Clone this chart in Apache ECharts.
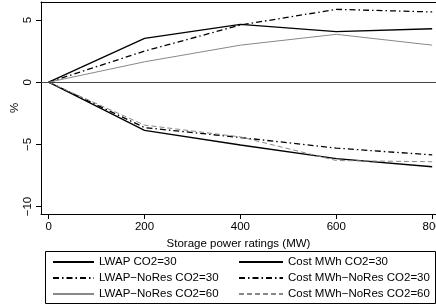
<!DOCTYPE html>
<html>
<head>
<meta charset="utf-8" />
<script src="https://cdn.jsdelivr.net/npm/echarts@6/dist/echarts.min.js"></script>
<style>
	html,
	body {
		margin: 0;
		padding: 0;
		background: #fff;
	}
	#chart {
		width: 436px;
		height: 305px;
	}
</style>
</head>
<body>
<div id="chart"></div>
<script>
	// storage power ratings (MW)
	const powers = [0, 200, 400, 600, 800];
	// % change
	const lwap30 = [0, 3.52, 4.65, 4.06, 4.3];
	const lwapNoRes30 = [0, 2.5, 4.6, 5.86, 5.65];
	const lwapNoRes60 = [0, 1.64, 2.98, 3.85, 2.98];
	const cost30 = [0, -3.87, -5.05, -6.15, -6.8];
	const costNoRes30 = [0, -3.65, -4.45, -5.3, -5.85];
	const costNoRes60 = [0, -3.45, -4.4, -6.3, -6.4];
	// tick labels
	const xTicks = [0, 200, 400, 600, 800];
	const yTicks = [-10, -5, 0, 5];

	const font = 'Liberation Sans';
	const dashDot = [6, 3, 1.5, 3];

	function pairs(values) {
		return powers.map((p, i) => [p, values[i]]);
	}

	function line(name, values, color, type, width) {
		return {
			name: name,
			type: 'line',
			data: pairs(values),
			symbol: 'none',
			silent: true,
			lineStyle: { color: color, type: type, width: width },
			itemStyle: { color: color },
		};
	}

	const series = [
		line('LWAP CO2=30', lwap30, '#000', 'solid', 1.3),
		line('LWAP\u2212NoRes CO2=30', lwapNoRes30, '#000', dashDot, 1.3),
		line('LWAP\u2212NoRes CO2=60', lwapNoRes60, '#888', 'solid', 1),
		line('Cost MWh CO2=30', cost30, '#000', 'solid', 1.3),
		line('Cost MWh\u2212NoRes CO2=30', costNoRes30, '#000', dashDot, 1.3),
		line('Cost MWh\u2212NoRes CO2=60', costNoRes60, '#888', [5, 3], 1),
	];
	// zero line
	series[0].markLine = {
		silent: true,
		symbol: 'none',
		label: { show: false },
		lineStyle: { color: '#444', type: 'solid', width: 1.2 },
		data: [{ yAxis: 0 }],
	};

	const textStyle = { fontFamily: font, fontSize: 11.5, color: '#000' };

	function legendCol(left, width, names) {
		return {
			orient: 'vertical',
			left: left,
			top: 256,
			padding: 0,
			itemWidth: width,
			itemHeight: 10,
			itemGap: 4,
			itemStyle: { opacity: 0 },
			textStyle: textStyle,
			data: names,
		};
	}

	const option = {
		animation: false,
		grid: {
			left: 41,
			top: 2,
			right: 0,
			bottom: 91,
			outerBoundsMode: 'none',
		},
		xAxis: [
			{
				type: 'value',
				min: -16,
				max: 808,
				name: 'Storage power ratings (MW)',
				nameLocation: 'middle',
				nameGap: 19,
				nameTextStyle: textStyle,
				splitLine: { show: false },
				axisLine: { show: true, onZero: false, lineStyle: { color: '#000', width: 1 } },
				axisTick: { show: true, length: 5, customValues: xTicks, lineStyle: { color: '#000' } },
				axisLabel: Object.assign({ customValues: xTicks, margin: 7, hideOverlap: false }, textStyle),
			},
			{
				// top frame line only
				type: 'value',
				position: 'top',
				min: -16,
				max: 808,
				splitLine: { show: false },
				axisLine: { show: true, onZero: false, lineStyle: { color: '#000', width: 1 } },
				axisTick: { show: false },
				axisLabel: { show: false },
			},
		],
		yAxis: {
			type: 'value',
			min: -10.6,
			max: 6.45,
			name: '%',
			nameLocation: 'middle',
			nameRotate: 90,
			nameGap: 26,
			nameMoveOverlap: false,
			nameTextStyle: Object.assign({ align: 'center', verticalAlign: 'middle' }, textStyle),
			splitLine: { show: false },
			axisLine: { show: true, onZero: false, lineStyle: { color: '#000', width: 1 } },
			axisTick: { show: true, length: 5, customValues: yTicks, lineStyle: { color: '#000' } },
			axisLabel: Object.assign(
				{
					customValues: yTicks,
					rotate: 90,
					margin: 7,
					align: 'center',
					verticalAlign: 'bottom',
					formatter: (v) => String(v).replace('-', '\u2212'),
				},
				textStyle
			),
		},
		legend: [
			legendCol(52, 41, [series[0].name, series[1].name, series[2].name]),
			legendCol(238, 44, [series[3].name, series[4].name, series[5].name]),
		],
		// legend frame
		graphic: [
			{
				type: 'rect',
				shape: { x: 45.5, y: 251.5, width: 390, height: 52 },
				style: { fill: 'none', stroke: '#000', lineWidth: 1 },
				silent: true,
			},
		],
		series: series,
	};

	const chart = echarts.init(document.getElementById('chart'));
	chart.setOption(option);
</script>
</body>
</html>
